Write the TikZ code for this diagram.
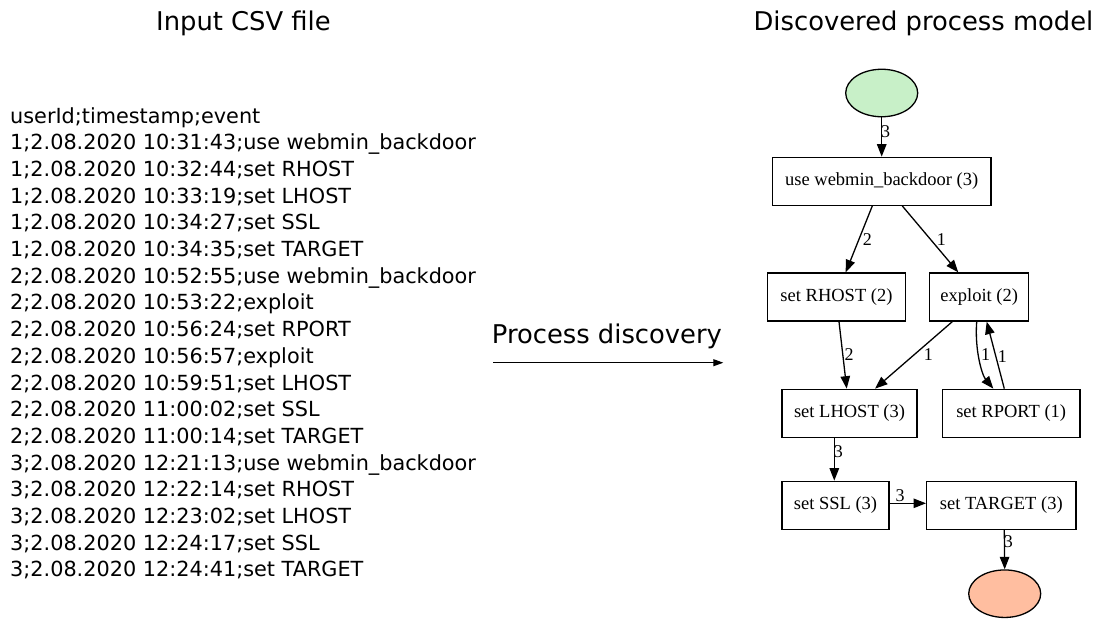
\documentclass[tikz,border=0pt]{standalone}
\usepackage{fontspec}
\newfontfamily\vsans{DejaVu Sans}
\newfontfamily\tms{Liberation Serif}
\usetikzlibrary{arrows.meta,calc,shapes.geometric}
\definecolor{startgreen}{RGB}{200,240,200}
\definecolor{endsalmon}{RGB}{255,190,160}
\begin{document}
\begin{tikzpicture}[x=1pt,y=-1pt,
  csv/.style={anchor=base west, inner sep=0pt, font=\vsans\fontsize{20.8}{25}\selectfont},
  ttl/.style={anchor=base, inner sep=0pt, font=\vsans\fontsize{25.8}{30}\selectfont},
  box/.style={draw, line width=1.3pt, minimum height=48pt, inner sep=0pt, font=\tms\fontsize{18.5}{22}\selectfont},
  term/.style={draw, ellipse, line width=1.3pt, minimum width=72pt, minimum height=47.5pt, inner sep=0pt},
  edge/.style={line width=1.3pt, -{Triangle[length=12.5pt,width=9.5pt]}},
  lbl/.style={inner sep=0pt, font=\tms\fontsize{18}{22}\selectfont}]
\useasboundingbox (0,0) rectangle (1103,619);

% titles
\node[ttl] (t1) at (243.5,30.7) {Input CSV file};
\node[ttl] (t2) at (923.5,30.7) {Discovered process model};

% CSV lines
\node[csv] (c0) at (10,123.3) {userId;timestamp;event};
\node[csv] (c1) at (10,149.97) {1;2.08.2020 10:31:43;use webmin\_backdoor};
\node[csv] (c2) at (10,176.64) {1;2.08.2020 10:32:44;set RHOST};
\node[csv] (c3) at (10,203.31) {1;2.08.2020 10:33:19;set LHOST};
\node[csv] (c4) at (10,229.98) {1;2.08.2020 10:34:27;set SSL};
\node[csv] (c5) at (10,256.65) {1;2.08.2020 10:34:35;set TARGET};
\node[csv] (c6) at (10,283.32) {2;2.08.2020 10:52:55;use webmin\_backdoor};
\node[csv] (c7) at (10,309.99) {2;2.08.2020 10:53:22;exploit};
\node[csv] (c8) at (10,336.66) {2;2.08.2020 10:56:24;set RPORT};
\node[csv] (c9) at (10,363.33) {2;2.08.2020 10:56:57;exploit};
\node[csv] (c10) at (10,390.0) {2;2.08.2020 10:59:51;set LHOST};
\node[csv] (c11) at (10,416.67) {2;2.08.2020 11:00:02;set SSL};
\node[csv] (c12) at (10,443.34) {2;2.08.2020 11:00:14;set TARGET};
\node[csv] (c13) at (10,470.01) {3;2.08.2020 12:21:13;use webmin\_backdoor};
\node[csv] (c14) at (10,496.68) {3;2.08.2020 12:22:14;set RHOST};
\node[csv] (c15) at (10,523.35) {3;2.08.2020 12:23:02;set LHOST};
\node[csv] (c16) at (10,550.02) {3;2.08.2020 12:24:17;set SSL};
\node[csv] (c17) at (10,576.69) {3;2.08.2020 12:24:41;set TARGET};

% process discovery arrow
\node[csv, font=\vsans\fontsize{25.8}{30}\selectfont] (pd) at (491.7,343.3) {Process discovery};
\coordinate (pa) at (493.3,362.7);
\coordinate (pb) at (723.3,362.7);
\draw[line width=1pt, -{Triangle[length=10pt,width=7pt]}] (pa) -- (pb);

% process model
\node[term, fill=startgreen] (start) at (881.7,93) {};
\node[box, minimum width=218.7pt] (web) at (881.7,181.3) {use webmin\_backdoor (3)};
\node[box, minimum width=137.7pt] (rhost) at (836.5,297) {set RHOST (2)};
\node[box, minimum width=99pt] (expl) at (979.2,297) {exploit (2)};
\node[box, minimum width=135pt] (lhost) at (849.5,413.3) {set LHOST (3)};
\node[box, minimum width=137.7pt] (rport) at (1011.2,413.3) {set RPORT (1)};
\node[box, minimum width=107pt] (ssl) at (835.5,505.3) {set SSL (3)};
\node[box, minimum width=149.3pt] (target) at (1001.3,505.3) {set TARGET (3)};
\node[term, fill=endsalmon] (stop) at (1004.7,593.7) {};

\draw[edge] (start.south) -- (web.north) node[lbl,pos=0.37,xshift=4pt]{3};
\draw[edge] ([xshift=-9.4pt]web.south) -- ([xshift=9.2pt]rhost.north) node[lbl,pos=0.51,xshift=8.6pt]{2};
\draw[edge] ([xshift=20.6pt]web.south) -- ([xshift=-20.9pt]expl.north) node[lbl,pos=0.51,xshift=10.4pt]{1};
\draw[edge] ([xshift=2.5pt]rhost.south) -- ([xshift=-2.8pt]lhost.north) node[lbl,pos=0.485,xshift=6.3pt]{2};
\draw[edge] ([xshift=-26.9pt]expl.south) -- ([xshift=25.5pt]lhost.north) node[lbl,pos=0.485,xshift=13.5pt]{1};
\draw[edge] ([xshift=-2.5pt]expl.south) .. controls (974.5,350) and (982,375) .. ([xshift=-17.9pt]rport.north) node[lbl,pos=0.5,xshift=5.8pt,yshift=6.6pt]{1};
\draw[edge] ([xshift=-6.9pt]rport.north) -- ([xshift=7.5pt]expl.south) node[lbl,pos=0.485,xshift=6.5pt]{1};
\draw[edge] ([xshift=-15.2pt]lhost.south) -- ([xshift=-1.2pt]ssl.north) node[lbl,pos=0.33,xshift=4pt]{3};
\draw[edge] ([yshift=2pt]ssl.east) -- ([yshift=2pt]target.west) node[lbl,pos=0.29,yshift=7.6pt]{3};
\draw[edge] ([xshift=3pt]target.south) -- (stop.north) node[lbl,pos=0.3,xshift=4pt]{3};
\end{tikzpicture}
\end{document}
